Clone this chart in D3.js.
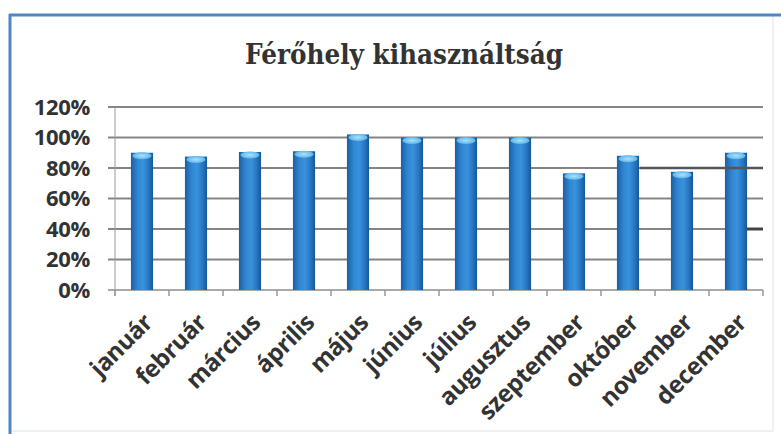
<!DOCTYPE html>
<html><head><meta charset="utf-8">
<script src="https://cdn.jsdelivr.net/npm/d3@7"></script>
<style>
html,body{margin:0;padding:0;background:#fff;}
svg{display:block;}
</style></head>
<body>
<svg id="chart" width="781" height="434"></svg>
<script>
const title = "Férőhely kihasználtság";
const categories = ["január","február","március","április","május","június","július","augusztus","szeptember","október","november","december"];
const values = [0.90, 0.875, 0.905, 0.91, 1.02, 1.00, 1.00, 1.00, 0.765, 0.88, 0.775, 0.90];
const yTicks = [0, 0.2, 0.4, 0.6, 0.8, 1.0, 1.2];

const svg = d3.select("#chart");
const W = 781, H = 434;
const m = {left:115, right:18, top:107, bottom:144};

// frame
svg.append("rect").attr("x",0).attr("y",0).attr("width",W).attr("height",H).attr("fill","#fff");
svg.append("rect").attr("x",10).attr("y",15).attr("width",763).attr("height",416)
  .attr("fill","#fff").attr("stroke","#e4eef8").attr("stroke-width",1.5);
svg.append("line").attr("x1",9).attr("x2",781).attr("y1",15).attr("y2",15)
  .attr("stroke","#4f86c6").attr("stroke-width",3);
svg.append("line").attr("x1",10).attr("x2",10).attr("y1",14).attr("y2",434)
  .attr("stroke","#4f86c6").attr("stroke-width",3);

const x = d3.scaleBand().domain(categories).range([m.left, W - m.right]).paddingInner(0.59).paddingOuter(0.295);
const xb = d3.scaleBand().domain(categories).range([m.left, W - m.right]).padding(0);
const y = d3.scaleLinear().domain([0, 1.2]).range([H - m.bottom, m.top]);

// defs
const defs = svg.append("defs");
const g1 = defs.append("linearGradient").attr("id","barGrad").attr("x1","0").attr("x2","1").attr("y1","0").attr("y2","0");
[["0%","#1a5fa3"],["30%","#2f86d2"],["55%","#3a92dc"],["80%","#2776c2"],["100%","#165896"]].forEach(([o,c])=>g1.append("stop").attr("offset",o).attr("stop-color",c));
const g2 = defs.append("radialGradient").attr("id","capGrad");
[["0%","#a8e3fb"],["100%","#5fb4ea"]].forEach(([o,c])=>g2.append("stop").attr("offset",o).attr("stop-color",c));

// gridlines
svg.append("g").selectAll("line").data(yTicks).join("line")
  .attr("x1", m.left - 7).attr("x2", W - m.right)
  .attr("y1", d => y(d)).attr("y2", d => y(d))
  .attr("stroke", d => d === 0 ? "#aaa" : "#858585").attr("stroke-width", 2);

// y axis line
svg.append("line").attr("x1",m.left).attr("x2",m.left).attr("y1",y(1.2)).attr("y2",y(0)+6)
  .attr("stroke","#9a9a9a").attr("stroke-width",1);

// x ticks at category boundaries
svg.append("g").selectAll("line").data(categories.concat(["__end"])).join("line")
  .attr("x1", (d,i) => i < categories.length ? xb(d) : xb(categories[categories.length-1]) + xb.bandwidth())
  .attr("x2", (d,i) => i < categories.length ? xb(d) : xb(categories[categories.length-1]) + xb.bandwidth())
  .attr("y1", y(0)).attr("y2", y(0) + 6)
  .attr("stroke","#999").attr("stroke-width",1.5);

// bars
const bars = svg.append("g");
bars.selectAll("rect").data(values).join("rect")
  .attr("x", (d,i) => x(categories[i]))
  .attr("y", d => y(d))
  .attr("width", x.bandwidth())
  .attr("height", d => y(0) - y(d))
  .attr("fill", "url(#barGrad)");
bars.selectAll("ellipse").data(values).join("ellipse")
  .attr("cx", (d,i) => x(categories[i]) + x.bandwidth()/2)
  .attr("cy", d => y(d) + 3)
  .attr("rx", x.bandwidth()/2 - 1.5)
  .attr("ry", 3.5)
  .attr("fill", "url(#capGrad)");

// scan artifact lines (dark strokes at right side)
svg.append("line").attr("x1", xb("október") + xb.bandwidth()*0.72).attr("x2", W - m.right)
  .attr("y1", y(0.8)).attr("y2", y(0.8)).attr("stroke","#555").attr("stroke-width",2.5);
svg.append("line").attr("x1", xb("december") + xb.bandwidth()*0.7).attr("x2", W - m.right)
  .attr("y1", y(0.4)).attr("y2", y(0.4)).attr("stroke","#444").attr("stroke-width",3);

// y labels
svg.append("g").selectAll("text").data(yTicks).join("text")
  .attr("x", 90).attr("y", d => y(d) + 7.5)
  .attr("text-anchor","end")
  .attr("font-family","'Open Sans', sans-serif").attr("font-weight",700).attr("font-size",22)
  .attr("letter-spacing","-0.3")
  .attr("fill","#333")
  .text(d => Math.round(d*100) + "%");

// x labels
svg.append("g").selectAll("text").data(categories).join("text")
  .attr("transform", d => `translate(${xb(d) + xb.bandwidth()/2 + 12},${y(0)+34}) rotate(-45)`)
  .attr("text-anchor","end")
  .attr("font-family","'Open Sans', sans-serif").attr("font-weight",700).attr("font-size",24)
  .attr("letter-spacing","-0.4")
  .attr("fill","#333")
  .text(d => d);

// title
svg.append("text").attr("x", 404).attr("y", 64)
  .attr("text-anchor","middle")
  .attr("font-family","'DejaVu Serif', serif").attr("font-weight",700).attr("font-size",27)
  .attr("textLength", 318).attr("lengthAdjust","spacingAndGlyphs")
  .attr("fill","#333")
  .text(title);
</script>
</body></html>
